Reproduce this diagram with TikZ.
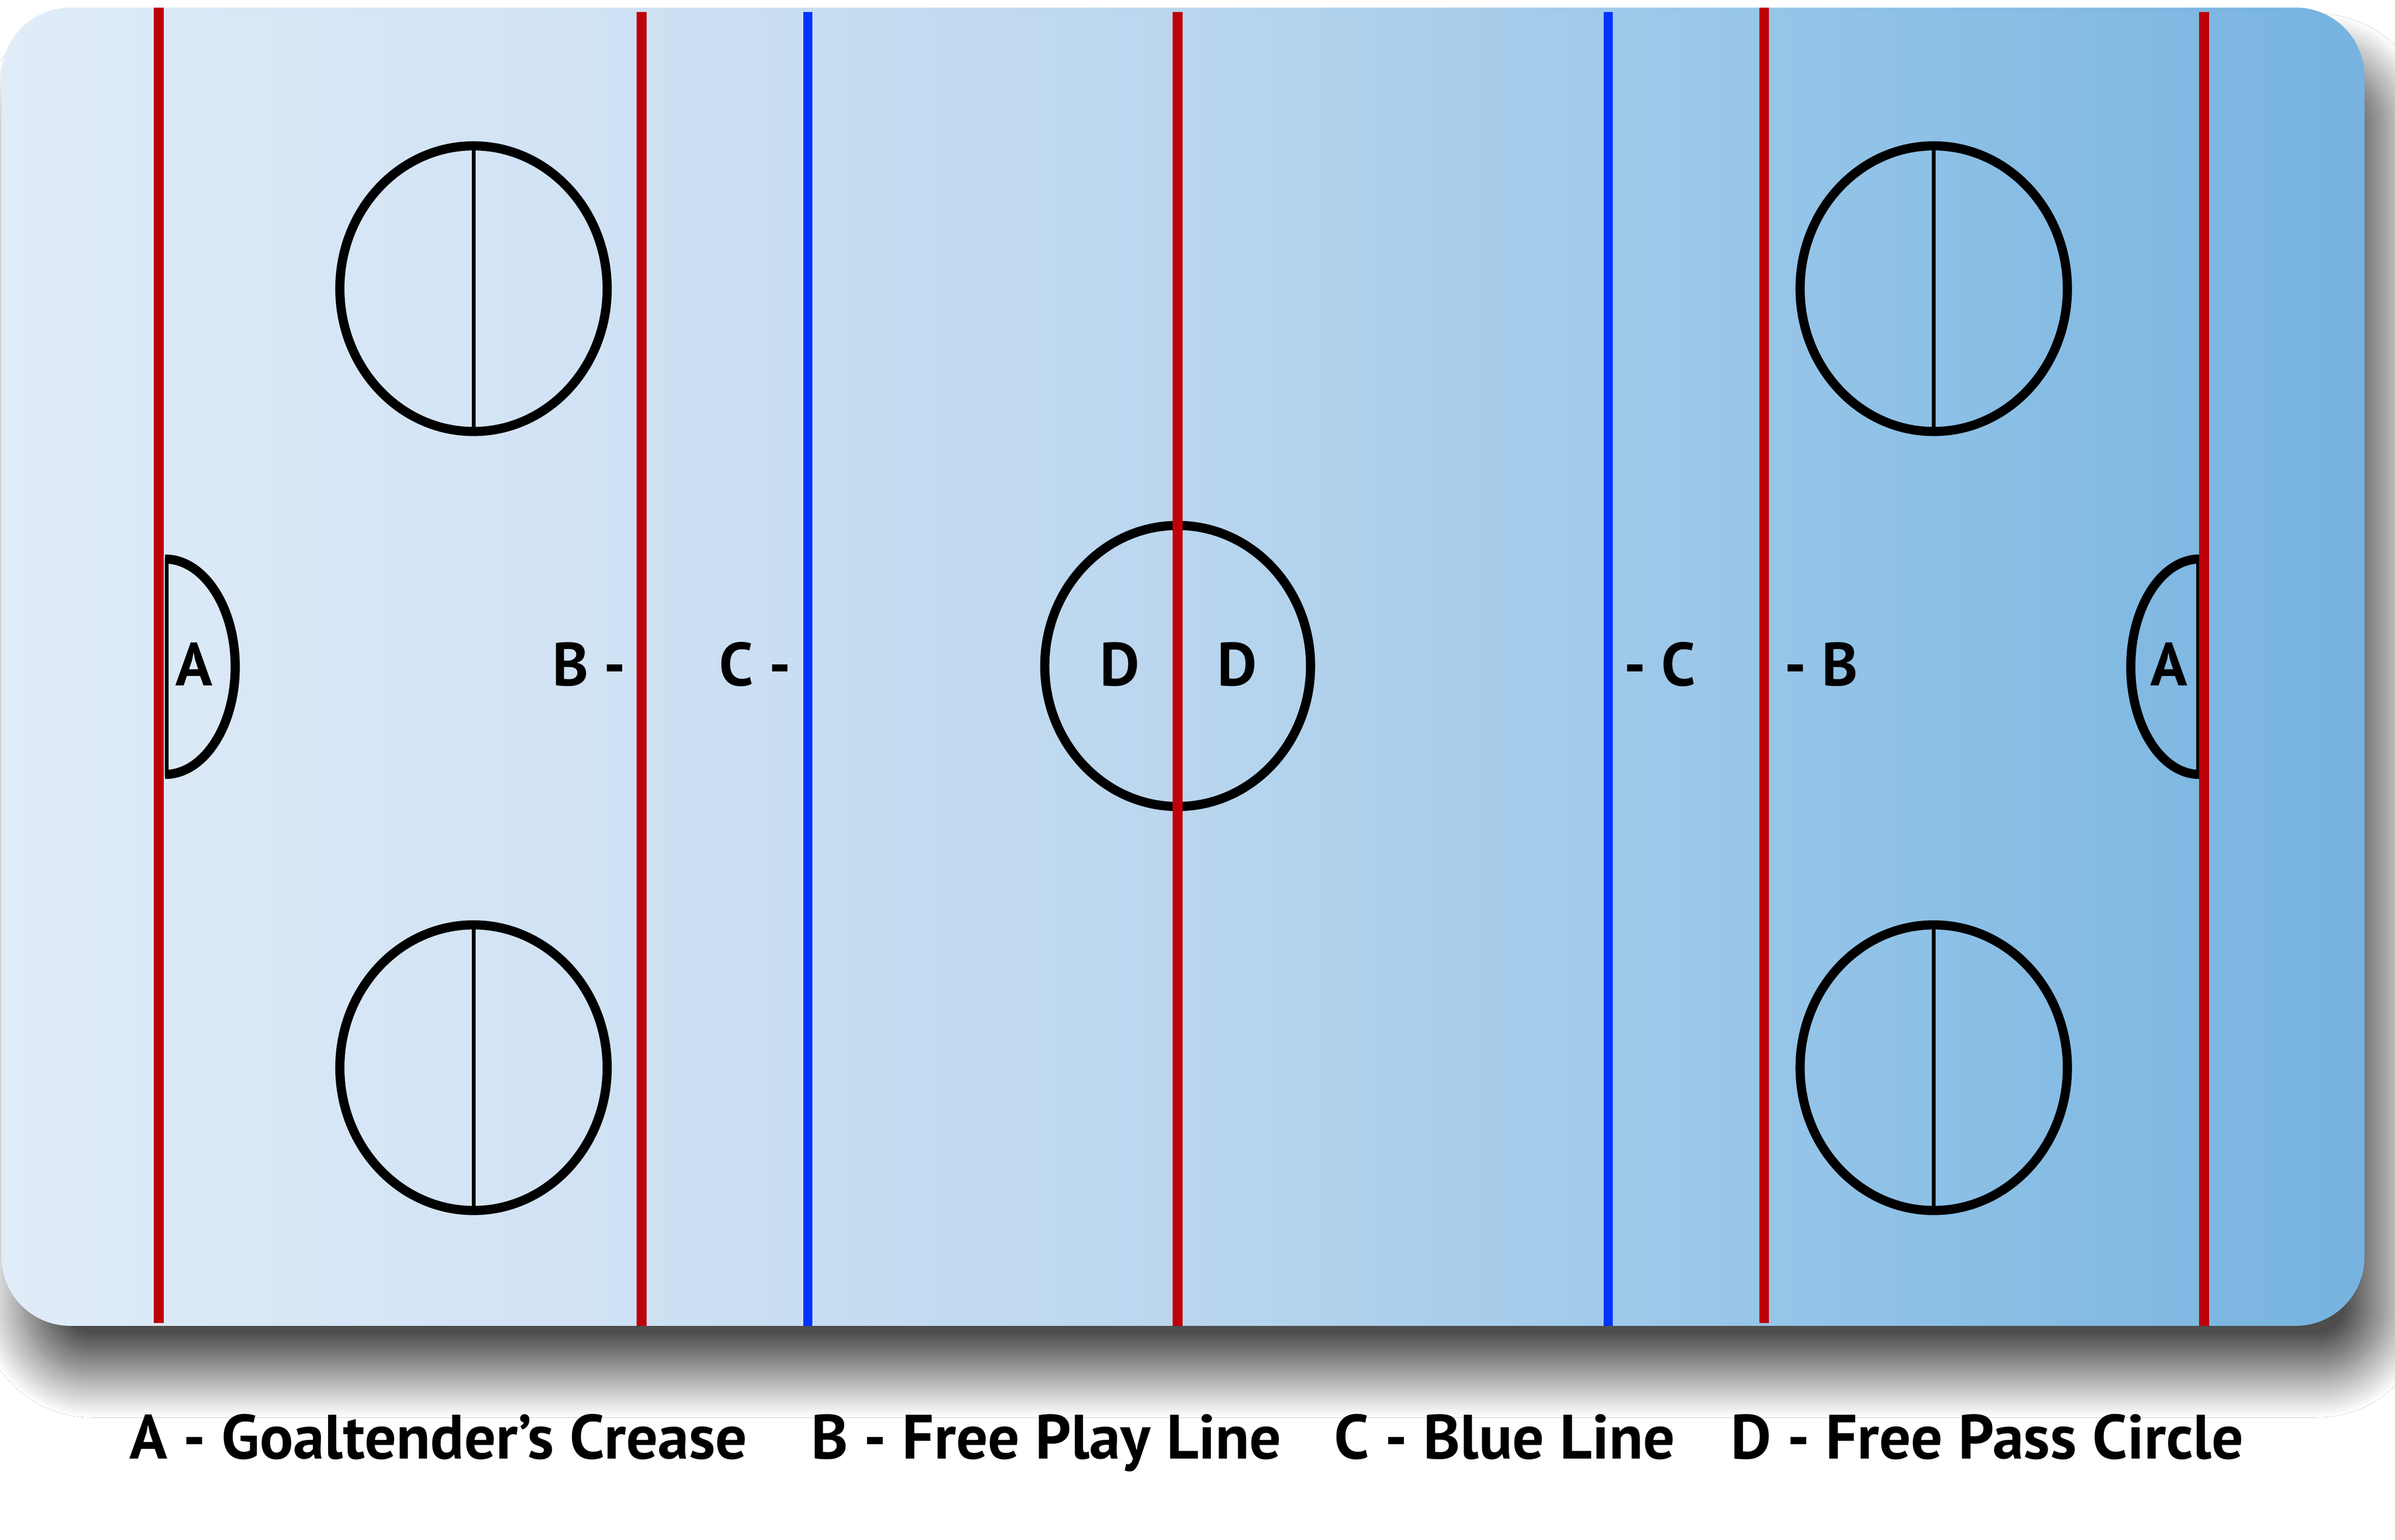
\documentclass[tikz,border=0pt]{standalone}
\usepackage{fontspec}
\setmainfont{PT Sans}
\usetikzlibrary{shadows.blur}
\definecolor{rinkA}{HTML}{E0ECF8}
\definecolor{rinkB}{HTML}{D0E2F4}
\definecolor{rinkC}{HTML}{BAD6EE}
\definecolor{rinkD}{HTML}{96C5E8}
\definecolor{rinkE}{HTML}{76B3E0}
\definecolor{redline}{HTML}{BE0008}
\definecolor{blueline}{HTML}{0033FF}
\pgfdeclarehorizontalshading{rinkshade}{100bp}{color(0bp)=(rinkA); color(25bp)=(rinkA); color(37.5bp)=(rinkB); color(50bp)=(rinkC); color(62.5bp)=(rinkD); color(75bp)=(rinkE); color(100bp)=(rinkE)}
\tikzset{
  redln/.style={draw=redline, line width=6.5pt},
  blueln/.style={draw=blueline, line width=6pt},
  ring/.style={draw=black, line width=6pt},
  thinln/.style={draw=black, line width=2.5pt},
  rinklbl/.style={font=\fontsize{40}{40}\selectfont\bfseries, inner sep=0pt, anchor=base},
  legend/.style={font=\fontsize{41}{41}\selectfont\bfseries, inner sep=0pt, anchor=base}
}
\begin{document}
\begin{tikzpicture}[x=1pt,y=-1pt]
\useasboundingbox (0,0) rectangle (1568,1008);
\fill[white] (0,0) rectangle (1568,1008);
% rink with shadow
\path[blur shadow={shadow xshift=14pt, shadow yshift=-32pt, shadow blur radius=28pt, shadow blur steps=40, shadow opacity=70},
      shading=rinkshade, shade, rounded corners=45pt] (1,5) rectangle (1548,868);
% creases
\draw[ring] (108,366) arc[start angle=-90, end angle=90, x radius=46, y radius=70.5];
\draw[thinln] (109,366) -- (109,507);
\draw[ring] (1440,366) arc[start angle=-90, end angle=-270, x radius=45, y radius=70.5];
\draw[thinln] (1439,366) -- (1439,507);
% faceoff circles
\foreach \cx/\cy in {310/189, 310/699, 1266/189, 1266/699}{
  \draw[ring] (\cx,\cy) ellipse[x radius=87.5, y radius=93.5];
  \draw[thinln] (\cx,95.5+\cy-189) -- (\cx,282.5+\cy-189);
}
% center circle
\draw[ring] (771,436) ellipse[x radius=87, y radius=92];
% lines
\draw[redln] (104,5) -- (104,866);
\draw[redln] (420,8) -- (420,868);
\draw[blueln] (529,8) -- (529,868);
\draw[redln] (771,8) -- (771,868);
\draw[blueln] (1053,8) -- (1053,868);
\draw[redln] (1155,5) -- (1155,866);
\draw[redln] (1443,8) -- (1443,868);
% rink labels
\node[rinklbl] (a1) at (127,449) {A};
\node[rinklbl, anchor=base east] (b1) at (410,449) {B -};
\node[rinklbl, anchor=base east] (c1) at (518,449) {C -};
\node[rinklbl] (d1) at (733,449) {D};
\node[rinklbl] (d2) at (810,449) {D};
\node[rinklbl, anchor=base west] (c2) at (1063,449) {- C};
\node[rinklbl, anchor=base west] (b2) at (1168,449) {- B};
\node[rinklbl] (a2) at (1420,449) {A};
% legend
\node[legend] (la) at (287,955) {A - Goaltender’s Crease};
\node[legend] (lb) at (685,955) {B - Free Play Line};
\node[legend] (lc) at (985,955) {C - Blue Line};
\node[legend] (ld) at (1301,955) {D - Free Pass Circle};
\end{tikzpicture}
\end{document}
